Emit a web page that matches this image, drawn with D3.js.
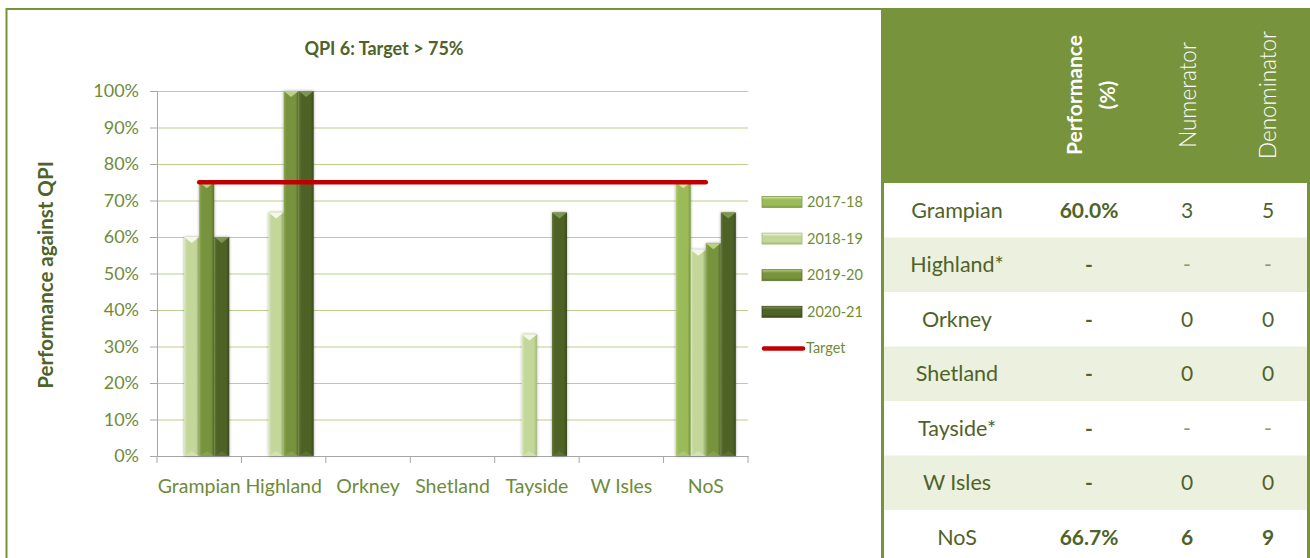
<!DOCTYPE html>
<html>
<head>
<meta charset="utf-8">
<script src="https://cdn.jsdelivr.net/npm/d3@7"></script>
<style>
  html, body { margin: 0; padding: 0; background: #fff; }
  svg { display: block; font-family: Lato, "Open Sans", sans-serif; }
</style>
</head>
<body>
<div id="chart"></div>
<script>
// chart data
const categories = ["Grampian", "Highland", "Orkney", "Shetland", "Tayside", "W Isles", "NoS"];
const seriesNames = ["2017-18", "2018-19", "2019-20", "2020-21"];
const values1718 = [null, null, null, null, null, null, 75];
const values1819 = [60, 66.7, null, null, 33.3, null, 56.5];
const values1920 = [75, 100, null, null, null, null, 58.3];
const values2021 = [60, 100, null, null, 66.7, null, 66.7];
const targetValues = [75, 75, 75, 75, 75, 75, 75];
const yTicks = [0, 10, 20, 30, 40, 50, 60, 70, 80, 90, 100];

// table data
const tableHeaders = [["Performance", "(%)"], ["Numerator"], ["Denominator"]];
const tableNames = ["Grampian", "Highland*", "Orkney", "Shetland", "Tayside*", "W Isles", "NoS"];
const tablePerf = ["60.0%", "-", "-", "-", "-", "-", "66.7%"];
const tableNum = ["3", "-", "0", "0", "-", "0", "6"];
const tableDen = ["5", "-", "0", "0", "-", "0", "9"];

const seriesValues = [values1718, values1819, values1920, values2021];
// base, light edge, dark edge, top facet
const seriesColors = [
  ["#9bbb59", "#b3cf7a", "#7f9c44", "#d5e6a8"],
  ["#c4d79b", "#dbe8bd", "#a6bb78", "#f4f8ea"],
  ["#77933c", "#8dab50", "#5f772d", "#b9d087"],
  ["#4f6228", "#647a35", "#3b4a1d", "#7d9650"]
];

const W = 1310, H = 558;
const green = "#77933c", darkText = "#4f6228", tickText = "#6f8b3a";

const svg = d3.select("#chart").append("svg").attr("width", W).attr("height", H);
const defs = svg.append("defs");

// bevel gradients
seriesColors.forEach(function(c, i) {
  const g = defs.append("linearGradient").attr("id", "bar" + i)
    .attr("x1", "0").attr("x2", "1").attr("y1", "0").attr("y2", "0");
  g.append("stop").attr("offset", "0").attr("stop-color", c[1]);
  g.append("stop").attr("offset", "0.18").attr("stop-color", c[0]);
  g.append("stop").attr("offset", "0.78").attr("stop-color", c[0]);
  g.append("stop").attr("offset", "1").attr("stop-color", c[2]);
  const gl = defs.append("linearGradient").attr("id", "leg" + i)
    .attr("x1", "0").attr("x2", "0").attr("y1", "0").attr("y2", "1");
  gl.append("stop").attr("offset", "0").attr("stop-color", c[3]);
  gl.append("stop").attr("offset", "0.3").attr("stop-color", c[0]);
  gl.append("stop").attr("offset", "0.75").attr("stop-color", c[0]);
  gl.append("stop").attr("offset", "1").attr("stop-color", c[2]);
});
const shadow = defs.append("filter").attr("id", "shadow")
  .attr("x", "-50%").attr("y", "-10%").attr("width", "200%").attr("height", "120%");
shadow.append("feDropShadow").attr("dx", 0).attr("dy", 0).attr("stdDeviation", 1.6)
  .attr("flood-color", "#000").attr("flood-opacity", 0.35);

// chart frame
svg.append("line").attr("x1", 6).attr("x2", 884).attr("y1", 9).attr("y2", 9)
  .attr("stroke", green).attr("stroke-width", 2);
svg.append("line").attr("x1", 6.5).attr("x2", 6.5).attr("y1", 8).attr("y2", H)
  .attr("stroke", green).attr("stroke-width", 2);

// scales
const x = d3.scaleBand().domain(categories).range([157, 748]);
const xs = d3.scaleBand().domain(seriesNames).range([0, x.bandwidth()]).paddingOuter(0.81);
const y = d3.scaleLinear().domain([0, 100]).range([456, 91]);

// gridlines
svg.append("g").attr("transform", "translate(157,0)")
  .call(d3.axisLeft(y).tickValues(yTicks.slice(1)).tickSize(-(748 - 157)).tickFormat(""))
  .call(g => g.select(".domain").remove())
  .call(g => g.selectAll("line").attr("stroke", "#b9d28c").attr("stroke-width", 1.2));

// y axis
svg.append("g").attr("transform", "translate(157,0)")
  .call(d3.axisLeft(y).tickValues(yTicks).tickSize(7).tickPadding(11).tickFormat(d => d + "%"))
  .call(g => g.select(".domain").attr("stroke", "#a6a6a6"))
  .call(g => g.selectAll("line").attr("stroke", "#a6a6a6"))
  .call(g => g.selectAll("text").attr("fill", tickText).attr("font-size", 18).attr("font-family", "Lato"));

// x axis
svg.append("g").attr("transform", "translate(0,456)")
  .call(d3.axisBottom(x).tickSize(0).tickPadding(23))
  .call(g => g.select(".domain").attr("stroke", "#a6a6a6"))
  .call(g => g.selectAll("text").attr("fill", tickText).attr("font-size", 19.5).attr("font-family", "Lato"));
const boundaries = categories.map(c => x(c)).concat([x.range()[1]]);
svg.append("g").selectAll("line").data(boundaries).join("line")
  .attr("x1", d => d).attr("x2", d => d).attr("y1", 456).attr("y2", 463)
  .attr("stroke", "#a6a6a6");

// bars
const barData = [];
seriesValues.forEach(function(vals, si) {
  vals.forEach(function(v, ci) {
    if (v !== null) barData.push({ s: si, c: categories[ci], v: v });
  });
});
const bars = svg.append("g").selectAll("g").data(barData).join("g")
  .attr("filter", "url(#shadow)");
bars.append("rect")
  .attr("x", d => x(d.c) + xs(seriesNames[d.s]))
  .attr("y", d => y(d.v))
  .attr("width", xs.bandwidth())
  .attr("height", d => y(0) - y(d.v))
  .attr("fill", d => "url(#bar" + d.s + ")");
bars.append("path")
  .attr("d", function(d) {
    const x0 = x(d.c) + xs(seriesNames[d.s]), x1 = x0 + xs.bandwidth(), t = y(d.v);
    return "M" + x0 + "," + t + "L" + x1 + "," + t + "L" + (x0 + x1) / 2 + "," + (t + 6) + "Z";
  })
  .attr("fill", d => seriesColors[d.s][3]);
bars.append("path")
  .attr("d", function(d) {
    const x0 = x(d.c) + xs(seriesNames[d.s]), x1 = x0 + xs.bandwidth(), b = y(0);
    return "M" + x0 + "," + b + "L" + x1 + "," + b + "L" + (x0 + x1) / 2 + "," + (b - 5) + "Z";
  })
  .attr("fill", d => seriesColors[d.s][1]).attr("opacity", 0.6);

// target line
const line = d3.line()
  .x((d, i) => x(categories[i]) + x.bandwidth() / 2)
  .y(d => y(d));
svg.append("path").datum(targetValues).attr("d", line)
  .attr("fill", "none").attr("stroke", "#c00000").attr("stroke-width", 4.5)
  .attr("stroke-linecap", "round");

// title
svg.append("text").attr("x", 384).attr("y", 55).attr("text-anchor", "middle")
  .attr("font-weight", "bold").attr("font-size", 18).attr("fill", darkText)
  .text("QPI 6: Target > 75%");

// y axis title
svg.append("text").attr("transform", "translate(53,275) rotate(-90)")
  .attr("text-anchor", "middle").attr("font-weight", "bold").attr("font-size", 20.5)
  .attr("fill", darkText).text("Performance against QPI");

// legend
const legendItems = seriesNames.concat(["Target"]);
const leg = svg.append("g").selectAll("g").data(legendItems).join("g")
  .attr("transform", (d, i) => "translate(762," + (202 + i * 36.6) + ")");
leg.filter((d, i) => i < 4).append("rect")
  .attr("x", 0).attr("y", -5.5).attr("width", 40).attr("height", 11)
  .attr("fill", (d, i) => "url(#leg" + i + ")")
  .attr("stroke", (d, i) => seriesColors[i][2]).attr("stroke-width", 0.8);
leg.filter(d => d === "Target").append("line")
  .attr("x1", 2).attr("x2", 41).attr("y1", 0).attr("y2", 0)
  .attr("stroke", "#c00000").attr("stroke-width", 4.5).attr("stroke-linecap", "round");
leg.append("text").attr("x", (d, i) => i < 4 ? 45 : 44).attr("y", 0).attr("dy", "0.35em")
  .attr("font-size", 14.5).attr("fill", tickText).text(d => d);

// table
const tx0 = 881, tx1 = 1310, headTop = 8, headBottom = 183;
const rowH = 54.5;
const colX = [957, 1089, 1187, 1268];
svg.append("rect").attr("x", tx0).attr("y", headTop).attr("width", tx1 - tx0).attr("height", headBottom - headTop)
  .attr("fill", green);
const rows = svg.append("g").selectAll("g").data(tableNames).join("g")
  .attr("transform", (d, i) => "translate(0," + (headBottom + i * rowH) + ")");
rows.append("rect").attr("x", tx0).attr("y", 0).attr("width", tx1 - tx0).attr("height", rowH)
  .attr("fill", (d, i) => i % 2 === 1 ? "#ebf1de" : "#fff");
svg.append("rect").attr("x", tx0).attr("y", headBottom).attr("width", 3).attr("height", H - headBottom).attr("fill", green);
svg.append("rect").attr("x", tx1 - 3).attr("y", headBottom).attr("width", 3).attr("height", H - headBottom).attr("fill", green);

rows.append("text").attr("x", colX[0]).attr("y", rowH / 2).attr("dy", "0.36em")
  .attr("text-anchor", "middle").attr("font-size", 21.5).attr("fill", darkText).text(d => d);
rows.append("text").attr("x", colX[1]).attr("y", rowH / 2).attr("dy", "0.36em")
  .attr("text-anchor", "middle").attr("font-size", 21).attr("font-weight", "bold")
  .attr("fill", darkText).text((d, i) => tablePerf[i]);
rows.append("text").attr("x", colX[2]).attr("y", rowH / 2).attr("dy", "0.36em")
  .attr("text-anchor", "middle").attr("font-size", 21)
  .attr("font-weight", (d, i) => i === tableNames.length - 1 ? "bold" : "normal")
  .attr("fill", (d, i) => tableNum[i] === "-" ? "#8a9a6a" : darkText).text((d, i) => tableNum[i]);
rows.append("text").attr("x", colX[3]).attr("y", rowH / 2).attr("dy", "0.36em")
  .attr("text-anchor", "middle").attr("font-size", 21)
  .attr("font-weight", (d, i) => i === tableNames.length - 1 ? "bold" : "normal")
  .attr("fill", (d, i) => tableDen[i] === "-" ? "#8a9a6a" : darkText).text((d, i) => tableDen[i]);

// header labels (rotated)
const headX = [[1075, 1108], [1188], [1268]];
tableHeaders.forEach(function(lines, ci) {
  lines.forEach(function(t, li) {
    svg.append("text").attr("transform", "translate(" + headX[ci][li] + ",95) rotate(-90)")
      .attr("text-anchor", "middle").attr("dy", "0.35em")
      .attr("font-size", ci === 0 ? 21 : 22.5).attr("font-weight", ci === 0 ? "bold" : "300")
      .attr("fill", "#fff").text(t);
  });
});
</script>
</body>
</html>
